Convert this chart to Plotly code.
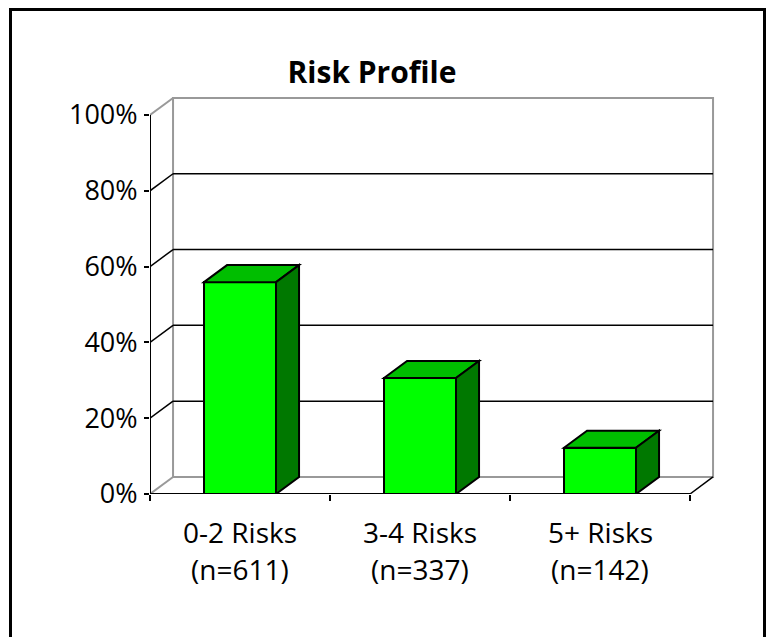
import plotly.graph_objects as go

categories = ["0-2 Risks", "3-4 Risks", "5+ Risks"]
counts = ["(n=611)", "(n=337)", "(n=142)"]
values = [55.9, 30.6, 12.2]
y_ticks = [0, 20, 40, 60, 80, 100]
y_tick_labels = ["0%", "20%", "40%", "60%", "80%", "100%"]
title_text = "Risk Profile"

# 3D depth offset in data units
DX = 0.128
DY = 4.5
BW = 0.2  # half bar width

FRONT = "#00FF00"
TOP = "#00BE00"
SIDE = "#007800"
WALL = "#999999"

xs = list(range(len(categories)))
x0, x1 = -0.5, len(categories) - 0.5

fig = go.Figure()
fig.add_trace(go.Bar(
    x=xs, y=values, width=2 * BW,
    marker=dict(color=FRONT, line=dict(color="black", width=2)),
    hoverinfo="skip", showlegend=False,
))

shapes = []
# back wall
shapes.append(dict(type="rect", xref="x", yref="y", x0=x0 + DX, x1=x1 + DX, y0=DY, y1=100 + DY,
                   line=dict(color=WALL, width=2), fillcolor="white", layer="below"))
# back gridlines and left side wall diagonals
for v in y_ticks:
    if 0 < v < 100:
        shapes.append(dict(type="line", xref="x", yref="y", x0=x0 + DX, x1=x1 + DX, y0=v + DY, y1=v + DY,
                           line=dict(color="black", width=1.5), layer="below"))
        shapes.append(dict(type="line", xref="x", yref="y", x0=x0, x1=x0 + DX, y0=v, y1=v + DY,
                           line=dict(color="black", width=1.5), layer="below"))
    else:
        shapes.append(dict(type="line", xref="x", yref="y", x0=x0, x1=x0 + DX, y0=v, y1=v + DY,
                           line=dict(color=WALL, width=2), layer="below"))
# floor front edge and right diagonal
shapes.append(dict(type="line", xref="x", yref="y", x0=x0, x1=x1, y0=0, y1=0,
                   line=dict(color="black", width=2), layer="below"))
shapes.append(dict(type="line", xref="x", yref="y", x0=x1, x1=x1 + DX, y0=0, y1=DY,
                   line=dict(color="black", width=1.5), layer="below"))
# left axis line
shapes.append(dict(type="line", xref="x", yref="y", x0=x0, x1=x0, y0=0, y1=100,
                   line=dict(color="black", width=2), layer="below"))

# bar top and side faces
for i, v in zip(xs, values):
    l, r = i - BW, i + BW
    top = f"M {l} {v} L {l + DX} {v + DY} L {r + DX} {v + DY} L {r} {v} Z"
    side = f"M {r} 0 L {r} {v} L {r + DX} {v + DY} L {r + DX} {DY} Z"
    shapes.append(dict(type="path", xref="x", yref="y", path=top, fillcolor=TOP,
                       line=dict(color="black", width=2), layer="above"))
    shapes.append(dict(type="path", xref="x", yref="y", path=side, fillcolor=SIDE,
                       line=dict(color="black", width=2), layer="above"))

# outer border (chart area frame)
W, H = 773, 637
L, R, T, B = 150, 720, 90, 494
pw, ph = R - L, B - T
def px(x):
    return (x - L) / pw
def py(y):
    return (B - y) / ph
shapes.append(dict(type="rect", xref="paper", yref="paper",
                   x0=px(10.5), x1=px(764.5), y0=py(660), y1=py(9.5),
                   line=dict(color="black", width=3), fillcolor="rgba(0,0,0,0)", layer="above"))

annotations = []
for i, (c, n) in enumerate(zip(categories, counts)):
    annotations.append(dict(x=i, y=0, xref="x", yref="y", text=c, showarrow=False,
                            yshift=-38, yanchor="middle", xanchor="center",
                            font=dict(size=28, color="black", family="Open Sans")))
    annotations.append(dict(x=i, y=0, xref="x", yref="y", text=n, showarrow=False,
                            yshift=-75, yanchor="middle", xanchor="center",
                            font=dict(size=28, color="black", family="Open Sans")))

x_range_max = x0 + (R - L) / 180.0
y_range_max = (B - T) / 3.79

fig.update_layout(
    width=W, height=H,
    margin=dict(l=L, r=W - R, t=T, b=H - B),
    paper_bgcolor="white", plot_bgcolor="rgba(0,0,0,0)",
    title=dict(text=f"<b>{title_text}</b>", x=372 / W, xref="container", xanchor="center",
               y=1 - 72 / H, yref="container", yanchor="middle",
               font=dict(size=30, color="black", family="Open Sans")),
    xaxis=dict(range=[x0, x_range_max], showgrid=False, zeroline=False, showline=False,
               tickvals=[], ticks="",
               minor=dict(tickmode="array", tickvals=[x0 + k for k in range(len(categories) + 1)],
                          ticks="outside", ticklen=6, tickcolor="black", tickwidth=1.5, showgrid=False),
               fixedrange=True),
    yaxis=dict(range=[0, y_range_max], showgrid=False, zeroline=False, showline=False,
               tickmode="array", tickvals=y_ticks, ticktext=y_tick_labels,
               ticks="outside", ticklen=5, tickcolor="black",
               tickwidth=1.5, ticklabelstandoff=1,
               tickfont=dict(size=27, color="black", family="Open Sans"), fixedrange=True),
    shapes=shapes, annotations=annotations, bargap=0,
)

fig.write_html("out.html")
